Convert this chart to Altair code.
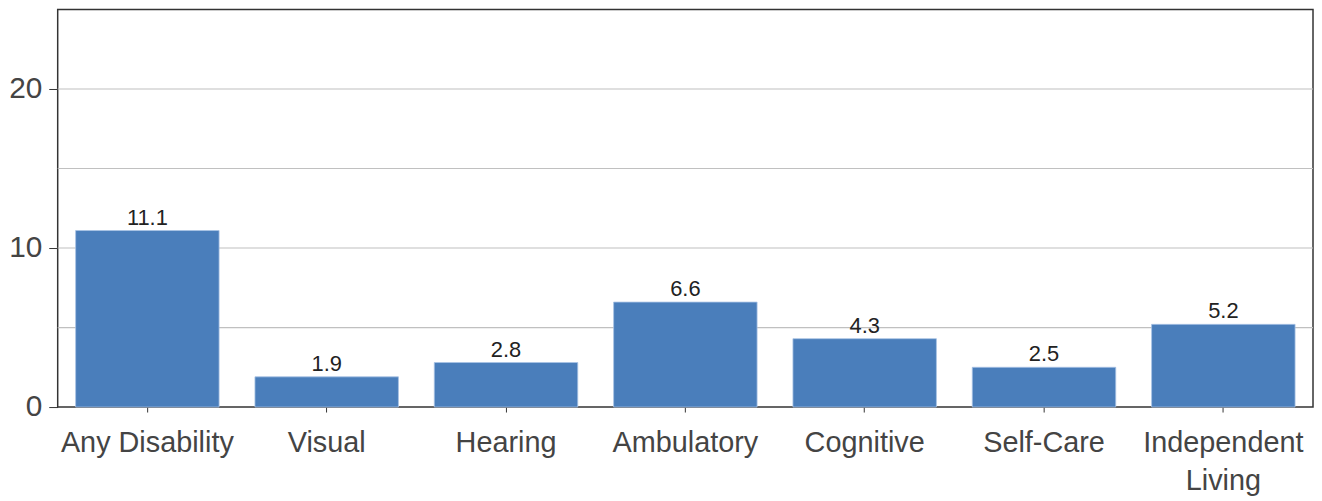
import altair as alt
import pandas as pd

categories = ["Any Disability", "Visual", "Hearing", "Ambulatory", "Cognitive", "Self-Care", "Independent\nLiving"]
values = [11.1, 1.9, 2.8, 6.6, 4.3, 2.5, 5.2]
labels = ["11.1", "1.9", "2.8", "6.6", "4.3", "2.5", "5.2"]
grid_values = [5, 10, 15, 20]
y_ticks = [0, 10, 20]

df = pd.DataFrame({"category": categories, "value": values, "label": labels})
grid_df = pd.DataFrame({"g": grid_values})

FONT = "Liberation Sans"

x_enc = alt.X(
    "category:N",
    sort=categories,
    scale=alt.Scale(paddingInner=0.2, paddingOuter=0.1),
    axis=alt.Axis(
        title=None,
        labelAngle=0,
        labelFont=FONT,
        labelFontSize=29,
        labelColor="#444444",
        labelPadding=17,
        labelLineHeight=38,
        labelExpr="split(datum.label, '\\n')",
        tickSize=5,
        tickColor="#333333",
        domain=False,
        grid=False,
    ),
)

y_scale = alt.Scale(domain=[0, 25], nice=False)

grid = alt.Chart(grid_df).mark_rule(color="#c0c0c0", strokeWidth=1.2).encode(
    y=alt.Y("g:Q", scale=y_scale),
)

bars = alt.Chart(df).mark_bar(
    color="#4a7ebb", stroke="#a8c2e4", strokeWidth=0.8
).encode(
    x=x_enc,
    y=alt.Y(
        "value:Q",
        scale=y_scale,
        axis=alt.Axis(
            title=None,
            values=y_ticks,
            labelFont=FONT,
            labelFontSize=30,
            labelColor="#444444",
            labelPadding=7,
            tickSize=9,
            tickColor="#333333",
            domain=False,
            grid=False,
        ),
    ),
)

text = alt.Chart(df).mark_text(
    font=FONT, fontSize=22, color="#222222", baseline="alphabetic", dy=-6
).encode(
    x=alt.X("category:N", sort=categories),
    y=alt.Y("value:Q", scale=y_scale),
    text="label:N",
)

chart = (
    alt.layer(grid, bars, text)
    .properties(width=1263, height=400, padding=0, background="white")
    .configure_view(stroke="#333333", strokeWidth=1.5)
)

chart.save("out.html", embed_options={"renderer": "svg", "actions": False})
